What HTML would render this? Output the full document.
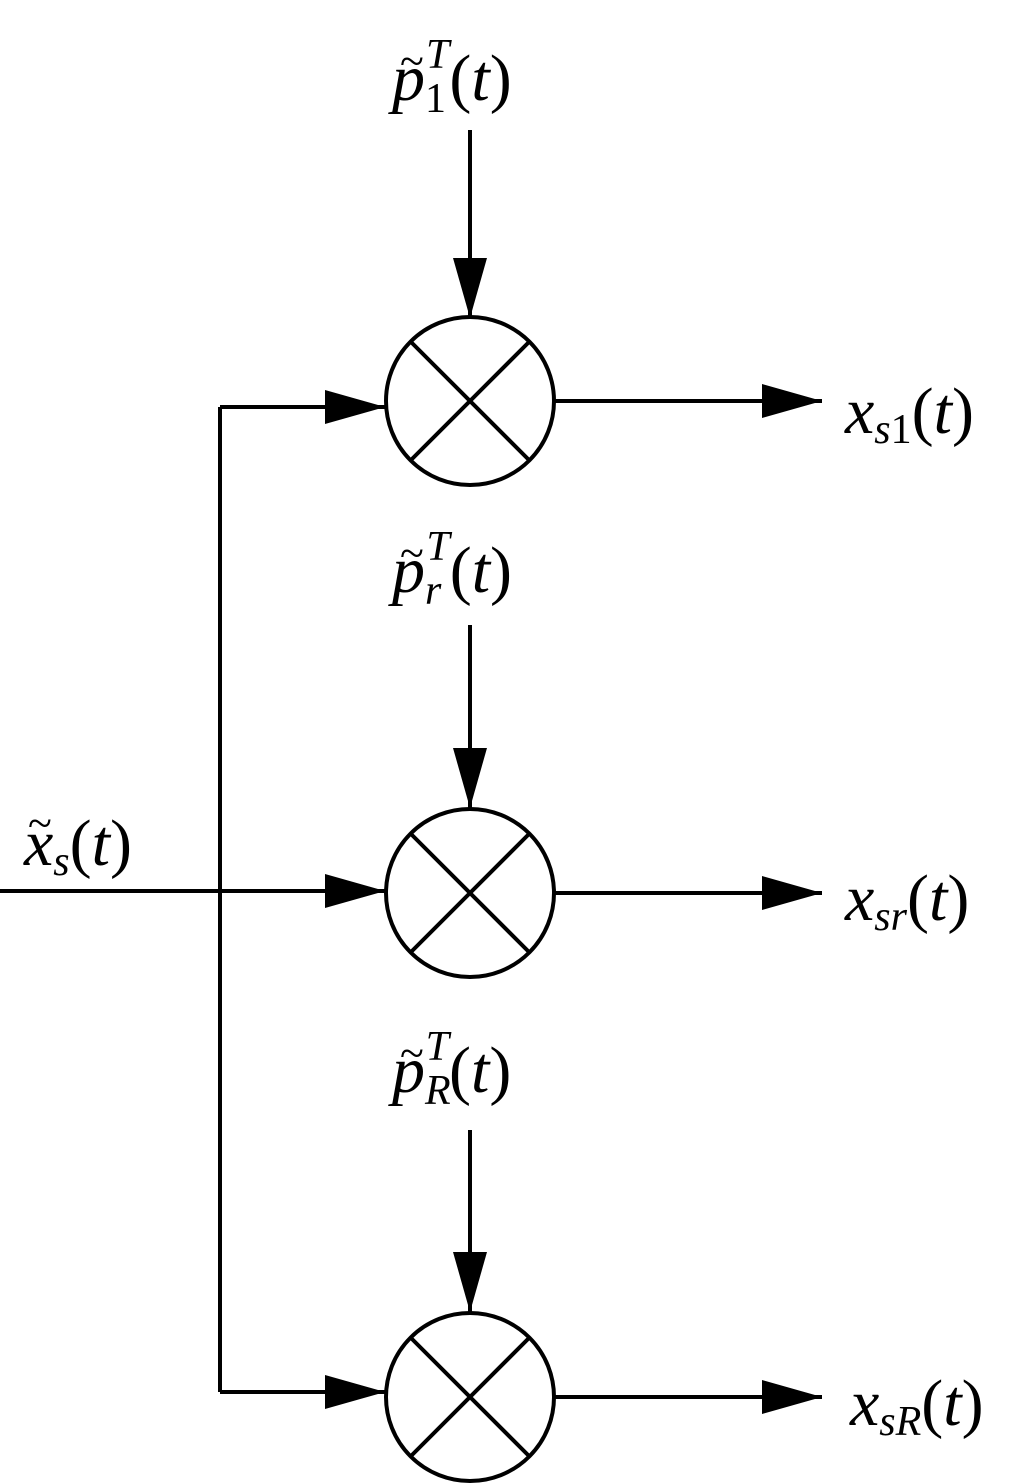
<!DOCTYPE html>
<html><head><style>body{margin:0;background:#fff}svg{display:block}text{font-family:"Liberation Serif","Times New Roman",serif}</style></head><body>
<svg width="1013" height="1484" viewBox="0 0 1013 1484" xmlns="http://www.w3.org/2000/svg">
<defs>
<marker id="a" markerWidth="60" markerHeight="34" refX="60" refY="17" orient="auto" markerUnits="userSpaceOnUse"><path d="M0,0 L60,17 L0,34 Z" fill="#000"/></marker>
</defs>
<g stroke="#000" stroke-width="4" fill="none">
<circle cx="470" cy="401" r="84"/>
<circle cx="470" cy="893" r="84"/>
<circle cx="470" cy="1397" r="84"/>
<path d="M411,342 L529,460 M529,342 L411,460"/>
<path d="M411,834 L529,952 M529,834 L411,952"/>
<path d="M411,1338 L529,1456 M529,1338 L411,1456"/>
<path d="M220,407 L220,1392"/>
<path d="M220,407 L385,407" marker-end="url(#a)"/>
<path d="M0,891 L385,891" marker-end="url(#a)"/>
<path d="M220,1392 L385,1392" marker-end="url(#a)"/>
<path d="M554,401 L822,401" marker-end="url(#a)"/>
<path d="M554,893 L822,893" marker-end="url(#a)"/>
<path d="M554,1397 L822,1397" marker-end="url(#a)"/>
<path d="M470,130 L470,318" marker-end="url(#a)"/>
<path d="M470,625 L470,808" marker-end="url(#a)"/>
<path d="M470,1130 L470,1312" marker-end="url(#a)"/>
</g>
<g font-size="66" fill="#000">
<text x="392" y="100"><tspan font-style="italic">p</tspan><tspan font-size="42" dy="12">1</tspan><tspan font-size="42" font-style="italic" dx="-20" dy="-44">T</tspan><tspan dy="32">(</tspan><tspan font-style="italic">t</tspan>)</text>
<text x="400" y="76" font-size="44">~</text>
<text x="392" y="592"><tspan font-style="italic">p</tspan><tspan font-size="42" font-style="italic" dy="12">r</tspan><tspan font-size="42" font-style="italic" dx="-15" dy="-44">T</tspan><tspan dy="32">(</tspan><tspan font-style="italic">t</tspan>)</text>
<text x="400" y="568" font-size="44">~</text>
<text x="392" y="1092"><tspan font-style="italic">p</tspan><tspan font-size="42" font-style="italic" dy="12">R</tspan><tspan font-size="42" font-style="italic" dx="-25" dy="-44">T</tspan><tspan dy="32">(</tspan><tspan font-style="italic">t</tspan>)</text>
<text x="400" y="1068" font-size="44">~</text>
<text x="24" y="865"><tspan font-style="italic">x</tspan><tspan font-size="42" font-style="italic" dy="10">s</tspan><tspan dy="-10">(</tspan><tspan font-style="italic">t</tspan>)</text>
<text x="28" y="838" font-size="44">~</text>
<text x="845" y="433"><tspan font-style="italic">x</tspan><tspan font-size="42" font-style="italic" dy="10">s</tspan><tspan font-size="42">1</tspan><tspan dy="-10">(</tspan><tspan font-style="italic">t</tspan>)</text>
<text x="845" y="920"><tspan font-style="italic">x</tspan><tspan font-size="42" font-style="italic" dy="10">sr</tspan><tspan dy="-10">(</tspan><tspan font-style="italic">t</tspan>)</text>
<text x="850" y="1425"><tspan font-style="italic">x</tspan><tspan font-size="42" font-style="italic" dy="10">sR</tspan><tspan dy="-10">(</tspan><tspan font-style="italic">t</tspan>)</text>
</g>
</svg>
</body></html>
